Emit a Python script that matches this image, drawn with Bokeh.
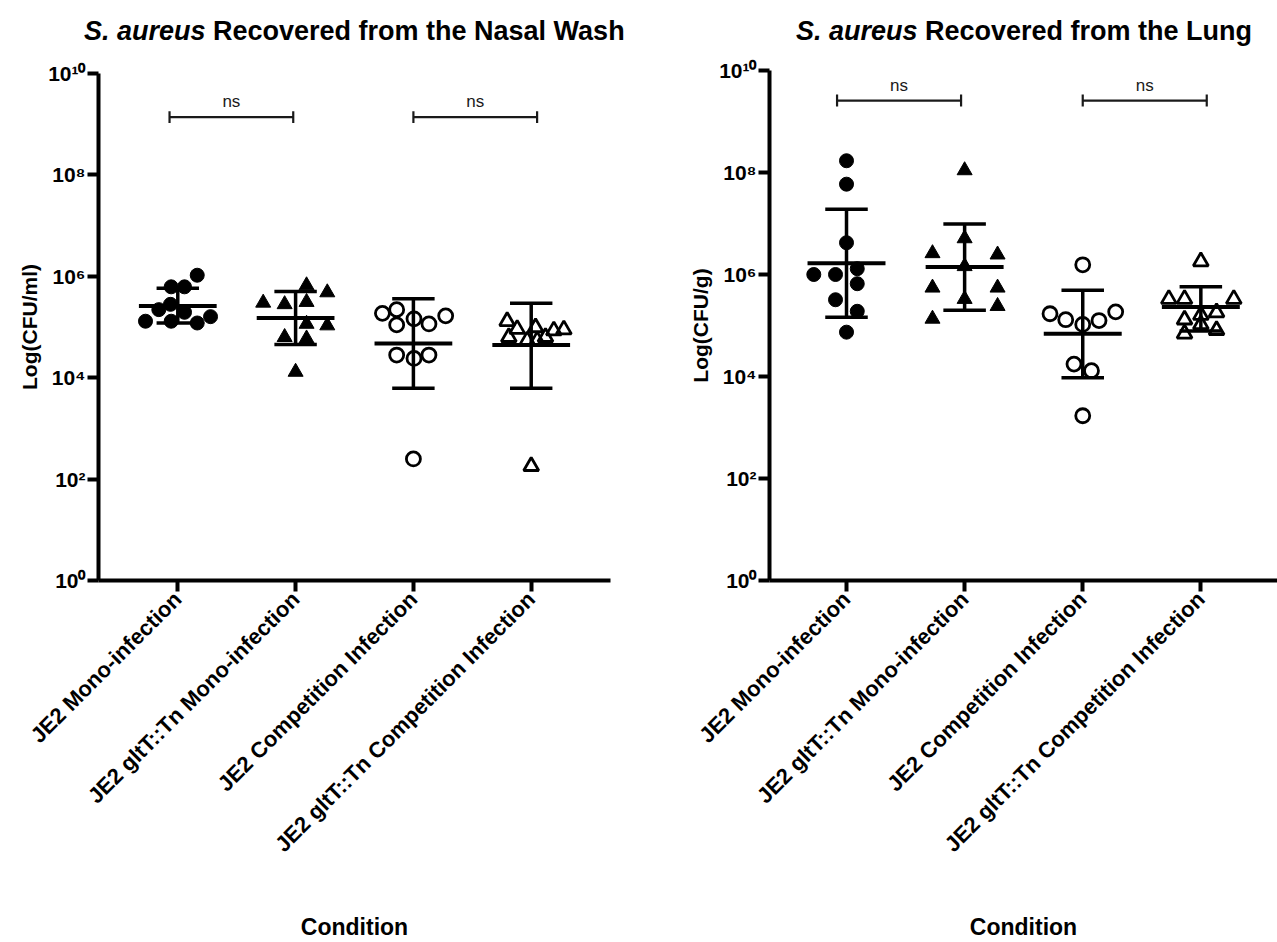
import math
from bokeh.plotting import figure
from bokeh.layouts import row, column
from bokeh.models import FixedTicker, CustomJSTickFormatter, ColumnDataSource
from bokeh.core.properties import value
from bokeh.embed import file_html
from bokeh.resources import INLINE

# ---------------- data ----------------
categories = ["JE2 Mono-infection", "JE2 gltT::Tn Mono-infection",
              "JE2 Competition Infection", "JE2 gltT::Tn Competition Infection"]
markers = ["circle", "triangle", "circle", "triangle"]
filled = [True, True, False, False]
y_ticks = [1, 1e2, 1e4, 1e6, 1e8, 1e10]

# Nasal wash (CFU/ml)
nasal_vals = [
    [1.05e6, 6.2e5, 6.2e5, 2.8e5, 2.2e5, 1.95e5, 1.3e5, 1.3e5, 1.2e5, 1.6e5],
    [6.6e5, 4.8e5, 3.0e5, 2.8e5, 3.1e5, 1.15e5, 1.07e5, 6.3e4, 5.9e4, 1.3e4],
    [1.86e5, 2.2e5, 1.45e5, 1.1e5, 1.15e5, 1.66e5, 2.8e4, 2.4e4, 2.8e4, 2.5e2],
    [1.3e5, 9.1e4, 9.8e4, 8.5e4, 8.9e4, 6.3e4, 5.4e4, 5.4e4, 6.3e4, 1.8e2],
]
nasal_jitter = [
    [0.165, -0.056, 0.057, -0.062, -0.161, 0.057, -0.274, -0.056, 0.165, 0.278],
    [0.093, 0.269, -0.275, -0.093, 0.093, 0.093, 0.269, -0.093, 0.093, 0.0],
    [-0.263, -0.142, 0.005, -0.142, 0.132, 0.274, -0.142, 0.005, 0.132, 0.0],
    [-0.204, -0.119, 0.037, 0.192, 0.277, -0.19, -0.034, 0.051, 0.121, 0.0],
]
nasal_mean = [2.6e5, 1.5e5, 4.7e4, 4.4e4]
nasal_upper = [5.8e5, 5.0e5, 3.6e5, 2.95e5]
nasal_lower = [1.2e5, 4.5e4, 6.2e3, 6.2e3]

# Lung (CFU/g)
lung_vals = [
    [1.7e8, 5.9e7, 4.2e6, 1.0e6, 1.0e6, 1.3e6, 6.6e5, 3.2e5, 1.9e5, 7.4e4],
    [1.1e8, 5.1e6, 2.6e6, 2.45e6, 1.45e6, 5.5e5, 5.5e5, 3.3e5, 2.4e5, 1.35e5],
    [1.55e6, 1.7e5, 1.3e5, 1.05e5, 1.25e5, 1.85e5, 1.75e4, 1.3e4, 1.7e3],
    [1.8e6, 3.3e5, 3.3e5, 3.3e5, 1.6e5, 1.8e5, 1.3e5, 1.05e5, 6.9e4, 8.1e4],
]
lung_jitter = [
    [0.0, 0.0, 0.0, -0.277, -0.093, 0.091, 0.091, -0.093, 0.091, 0.0],
    [0.0, 0.0, -0.272, 0.279, 0.0, -0.272, 0.279, 0.0, 0.279, -0.272],
    [0.0, -0.277, -0.144, 0.0, 0.138, 0.279, -0.074, 0.074, 0.0],
    [0.0, -0.271, -0.138, 0.279, 0.0, 0.133, -0.138, 0.0, -0.138, 0.133],
]
lung_mean = [1.66e6, 1.4e6, 6.9e4, 2.3e5]
lung_upper = [1.9e7, 9.8e6, 4.9e5, 5.75e5]
lung_lower = [1.45e5, 2.0e5, 9.5e3, 7.8e4]

comparisons = [(0, 1, "ns"), (2, 3, "ns")]

FONT = "Liberation Sans"
TITLE_H = 50

SUP_JS = """
const sup = {"0":"\u2070","1":"\u00b9","2":"\u00b2","3":"\u00b3","4":"\u2074",
             "5":"\u2075","6":"\u2076","7":"\u2077","8":"\u2078","9":"\u2079"};
const e = Math.round(Math.log10(tick));
return "10" + String(e).split("").map(c => sup[c]).join("");
"""


def make_title(width, split_x, title_rest):
    t = figure(width=width, height=TITLE_H, output_backend="svg", toolbar_location=None,
               x_range=(0, width), y_range=(0, TITLE_H),
               x_axis_location=None, y_axis_location=None, frame_align=False,
               min_border_left=0, min_border_right=0, min_border_top=0, min_border_bottom=0)
    t.grid.visible = False
    t.outline_line_color = None
    t.text(x=[split_x], y=[20], text=["S. aureus"], text_align="right",
           text_baseline="alphabetic", text_font=value(FONT), text_font_size="27px",
           text_font_style="bold italic", text_color="black")
    t.text(x=[split_x + 7.5], y=[20], text=[title_rest], text_align="left",
           text_baseline="alphabetic", text_font=value(FONT), text_font_size="27px",
           text_font_style="bold", text_color="black")
    return t


def make_panel(vals, jitter, mean, upper, lower, ylabel,
               width, border_left, border_right, border_top, border_bottom,
               x_range, bracket_y, bracket_dx):
    p = figure(width=width, height=942 - TITLE_H, output_backend="svg", toolbar_location=None,
               x_range=x_range, y_range=(1, 1e10), y_axis_type="log", frame_align=False,
               min_border_left=border_left, min_border_right=border_right,
               min_border_top=border_top, min_border_bottom=border_bottom)
    p.outline_line_color = None
    p.grid.visible = False
    p.background_fill_color = "white"
    p.border_fill_color = "white"

    # axes
    p.xaxis.ticker = FixedTicker(ticks=list(range(len(categories))))
    p.xaxis.major_label_overrides = {i: c for i, c in enumerate(categories)}
    p.xaxis.major_label_orientation = math.pi / 4
    p.yaxis.ticker = FixedTicker(ticks=y_ticks)
    p.yaxis.formatter = CustomJSTickFormatter(code=SUP_JS)
    for ax in (p.xaxis, p.yaxis):
        ax.axis_line_width = 4
        ax.axis_line_color = "black"
        ax.major_tick_line_width = 4
        ax.major_tick_line_color = "black"
        ax.major_tick_out = 11
        ax.major_tick_in = 0
        ax.minor_tick_line_color = None
        ax.major_label_text_font = FONT
        ax.major_label_text_font_style = "bold"
        ax.major_label_text_color = "black"
        ax.axis_label_text_font = FONT
        ax.axis_label_text_font_style = "bold"
        ax.axis_label_text_color = "black"
    p.xaxis.major_label_text_font_size = "22px"
    p.yaxis.major_label_text_font_size = "21px"
    p.xaxis.major_label_standoff = 4
    p.yaxis.major_label_standoff = 2
    p.xaxis.axis_label = "Condition"
    p.xaxis.axis_label_text_font_size = "23px"
    p.xaxis.axis_label_standoff = 45
    p.yaxis.axis_label = ylabel
    p.yaxis.axis_label_text_font_size = "21px"
    p.yaxis.axis_label_standoff = 4

    # points
    for i, (v, j) in enumerate(zip(vals, jitter)):
        src = ColumnDataSource(dict(x=[i + d for d in j], y=v))
        if filled[i]:
            p.scatter("x", "y", source=src, marker=markers[i],
                      size=14 if markers[i] == "circle" else 15,
                      fill_color="black", line_color="black", line_width=1)
        else:
            p.scatter("x", "y", source=src, marker=markers[i],
                      size=14 if markers[i] == "circle" else 15,
                      fill_alpha=0, line_color="black", line_width=2.8)

    # mean and SD
    xs = list(range(len(categories)))
    p.segment(x0=[x - 0.33 for x in xs], x1=[x + 0.33 for x in xs], y0=mean, y1=mean,
              line_color="black", line_width=4)
    p.segment(x0=xs, x1=xs, y0=lower, y1=upper, line_color="black", line_width=3.5)
    p.segment(x0=[x - 0.18 for x in xs], x1=[x + 0.18 for x in xs], y0=upper, y1=upper,
              line_color="black", line_width=3.5)
    p.segment(x0=[x - 0.18 for x in xs], x1=[x + 0.18 for x in xs], y0=lower, y1=lower,
              line_color="black", line_width=3.5)

    # significance brackets
    cap = 10 ** 0.117
    for (a, b, txt), (d0, d1) in zip(comparisons, bracket_dx):
        x0, x1 = a + d0, b + d1
        p.segment(x0=[x0], x1=[x1], y0=[bracket_y], y1=[bracket_y],
                  line_color="#1a1a1a", line_width=2.2)
        p.segment(x0=[x0, x1], x1=[x0, x1], y0=[bracket_y / cap] * 2, y1=[bracket_y * cap] * 2,
                  line_color="#1a1a1a", line_width=2.2)
        p.text(x=[(x0 + x1) / 2], y=[bracket_y * 10 ** 0.30], text=[txt],
               text_align="center", text_baseline="middle",
               text_font_size="17px", text_color="#1a1a1a",
               text_font=value(FONT))
    return p


left = make_panel(nasal_vals, nasal_jitter, nasal_mean, nasal_upper, nasal_lower,
                  "Log(CFU/ml)",
                  width=638, border_left=98, border_right=28,
                  border_top=73 - TITLE_H, border_bottom=358,
                  x_range=(-0.673, 3.673),
                  bracket_y=10 ** 9.14, bracket_dx=[(-0.07, -0.02), (0.0, 0.05)])
right = make_panel(lung_vals, lung_jitter, lung_mean, lung_upper, lung_lower,
                   "Log(CFU/g)",
                   width=639, border_left=131, border_right=0,
                   border_top=70 - TITLE_H, border_bottom=360,
                   x_range=(-0.652, 3.649),
                   bracket_y=10 ** 9.41, bracket_dx=[(-0.08, -0.03), (0.0, 0.05)])

left_title = make_title(638, 205, "Recovered from the Nasal Wash")
right_title = make_title(639, 279, "Recovered from the Lung")

layout = row(column(left_title, left), column(right_title, right))
open("out.html", "w").write(file_html(layout, INLINE))
